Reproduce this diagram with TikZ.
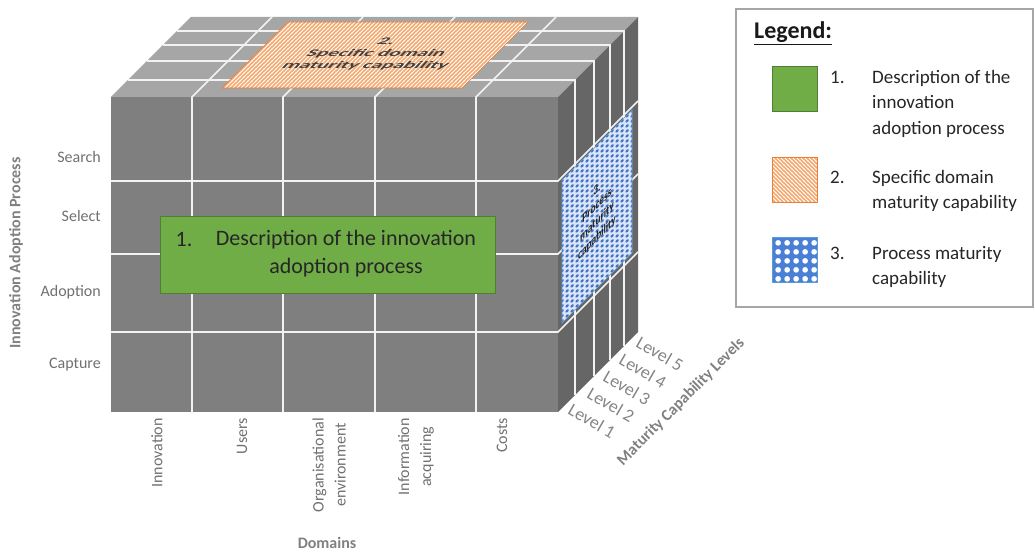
\documentclass[tikz,border=0pt]{standalone}
\usepackage{fontspec}
\setmainfont{Carlito}
\usetikzlibrary{patterns}
\definecolor{frontg}{HTML}{7F7F7F}
\definecolor{topg}{HTML}{A6A6A6}
\definecolor{sideg}{HTML}{666666}
\definecolor{gridw}{HTML}{F2F2F2}
\definecolor{grfill}{HTML}{70AD47}
\definecolor{grdraw}{HTML}{507E32}
\definecolor{orfill}{HTML}{F4A86E}
\definecolor{ordraw}{HTML}{ED7D31}
\definecolor{blfill}{HTML}{4A7FD6}
\definecolor{bldraw}{HTML}{5B9BD5}
\definecolor{bllight}{HTML}{D9E5F8}
\definecolor{bldot}{HTML}{4472C4}
\definecolor{labg}{HTML}{707070}
\definecolor{titg}{HTML}{808080}
\definecolor{legb}{HTML}{A6A6A6}
\pgfdeclarepatternformonly{hatchnw}{\pgfqpoint{-1pt}{-1pt}}{\pgfqpoint{5pt}{5pt}}{\pgfqpoint{4pt}{4pt}}{\pgfsetlinewidth{0.9pt}\pgfpathmoveto{\pgfqpoint{-0.3pt}{4.3pt}}\pgfpathlineto{\pgfqpoint{4.3pt}{-0.3pt}}\pgfusepath{stroke}}
\pgfdeclarepatternformonly{hatchne}{\pgfqpoint{-1pt}{-1pt}}{\pgfqpoint{5pt}{5pt}}{\pgfqpoint{4pt}{4pt}}{\pgfsetlinewidth{0.9pt}\pgfpathmoveto{\pgfqpoint{-0.3pt}{-0.3pt}}\pgfpathlineto{\pgfqpoint{4.3pt}{4.3pt}}\pgfusepath{stroke}}
\pgfdeclarepatternformonly{dotgrid}{\pgfqpoint{0pt}{0pt}}{\pgfqpoint{9pt}{9pt}}{\pgfqpoint{9pt}{9pt}}{\pgfpathcircle{\pgfqpoint{4.5pt}{4.5pt}}{3.1pt}\pgfusepath{fill}}
\pgfdeclarepatternformonly{smalldots}{\pgfqpoint{0pt}{0pt}}{\pgfqpoint{5pt}{5pt}}{\pgfqpoint{5pt}{5pt}}{\pgfpathellipse{\pgfqpoint{2.5pt}{2.5pt}}{\pgfqpoint{1.7pt}{1.7pt}}{\pgfqpoint{-1pt}{1pt}}\pgfusepath{fill}}
\tikzset{
  gridln/.style={draw=gridw, line width=1.6pt},
  lab/.style={text=labg, font=\fontsize{16}{19}\selectfont, inner sep=0pt},
  axtitle/.style={text=titg, font=\fontsize{16}{19}\selectfont\bfseries, inner sep=0pt},
  lvl/.style={text=labg!85, font=\fontsize{18}{21}\selectfont, rotate=-30, inner sep=0pt},
  legtxt/.style={font=\fontsize{19}{25.5}\selectfont, text=black!85, anchor=north west, align=left, inner sep=0pt},
  legnum/.style={font=\fontsize{19}{25.5}\selectfont, text=black!85, anchor=west, inner sep=0pt},
  orpat/.style={preaction={fill=orfill}, pattern=hatchne, pattern color=white},
  orpatl/.style={preaction={fill=orfill}, pattern=hatchnw, pattern color=white},
  blpat/.style={preaction={fill=blfill}, pattern=dotgrid, pattern color=white},
  blface/.style={preaction={fill=bllight}, pattern=smalldots, pattern color=bldot},
  swatch/.style={minimum width=45pt, minimum height=45pt, line width=1pt, inner sep=0pt},
}
\begin{document}
\begin{tikzpicture}[x=1pt,y=-1pt]
\useasboundingbox (0,0) rectangle (1035,553);
% cube faces
\fill[topg] (111,97) -- (558,97) -- (638,17) -- (191,17) -- cycle;
\fill[sideg] (558,97) -- (638,17) -- (638,332) -- (558,412) -- cycle;
\fill[frontg] (111,97) rectangle (558,412);
% grid lines
\foreach \d in {17,36,52,66}{
  \draw[gridln] ({111+\d},{97-\d}) -- ({558+\d},{97-\d}) -- ({558+\d},{412-\d});
}
\foreach \x in {192,283,375,476}{
  \draw[gridln] (\x,412) -- (\x,97) -- ({\x+80},17);
}
\foreach \y in {181,254,332}{
  \draw[gridln] (111,\y) -- (558,\y) -- (638,{\y-80});
}
% top pattern 2
\draw[orpat, draw=ordraw, line width=0.6pt] (222,88) -- (462,88) -- (528,22) -- (288,22) -- cycle;
\node[cm={1,0,0.42,0.48,(0,0)}, align=center, font=\fontsize{21}{25}\selectfont\bfseries, text=black!75, inner sep=0pt] (t2) at (376,54) {2.\\Specific domain\\maturity capability};
% side pattern 3
\draw[blface, draw=bldraw, line width=0.6pt] (562,180) -- (632,110) -- (632,253) -- (562,323) -- cycle;
\node[cm={0.72,0.72,0,1,(0,0)}, align=center, font=\fontsize{13}{16}\selectfont\bfseries, text=black!85, inner sep=0pt] (t3) at (597,214) {3.\\Process\\maturity\\capability};
% green box 1
\node[draw=grdraw, fill=grfill, line width=1pt, minimum width=335pt, minimum height=77pt, anchor=north west, inner sep=0pt] (g1) at (160,216) {};
\node[font=\fontsize{22}{28}\selectfont, text=black!85, inner sep=0pt] (g1n) at (184,240) {1.};
\node[font=\fontsize{22}{28}\selectfont, text=black!85, align=center, inner sep=0pt] (g1t) at (346,254) {Description of the innovation\\adoption process};
% left labels
\node[lab, anchor=east] (lsearch) at (101,157) {Search};
\node[lab, anchor=east] (lselect) at (101,216) {Select};
\node[lab, anchor=east] (ladopt) at (101,292) {Adoption};
\node[lab, anchor=east] (lcapt) at (101,365) {Capture};
\node[axtitle, rotate=90] (ltitle) at (16,253) {Innovation Adoption Process};
% bottom labels
\node[lab, rotate=90, anchor=east] (binn) at (157,418) {Innovation};
\node[lab, rotate=90, anchor=east] (buse) at (242,418) {Users};
\node[lab, rotate=90, anchor=east, align=center, font=\fontsize{16}{22}\selectfont] (borg) at (329,418) {Organisational\\environment};
\node[lab, rotate=90, anchor=east, align=center, font=\fontsize{16}{22}\selectfont] (binf) at (416,418) {Information\\acquiring};
\node[lab, rotate=90, anchor=east] (bcost) at (502,418) {Costs};
\node[axtitle] (btitle) at (327,543) {Domains};
% level labels
\node[lvl] (lv1) at (592,421) {Level 1};
\node[lvl] (lv2) at (611,405) {Level 2};
\node[lvl] (lv3) at (627,388) {Level 3};
\node[lvl] (lv4) at (643,371) {Level 4};
\node[lvl] (lv5) at (660,354) {Level 5};
\node[axtitle, rotate=45] (lvtitle) at (681,402) {Maturity Capability Levels};
% legend
\draw[legb, line width=1.5pt, fill=white] (736,9) rectangle (1033,307);
\node[font=\fontsize{24}{28}\selectfont\bfseries, text=black!90, anchor=west, inner sep=0pt] (legt) at (754,33) {\underline{Legend:}};
\node[swatch, fill=grfill, draw=grdraw] (s1) at (794.5,89.5) {};
\node[swatch, orpatl, draw=ordraw] (s2) at (794.5,180) {};
\node[swatch, blpat, draw=bldraw] (s3) at (794.5,260) {};
\node[legnum] (n1) at (830,77) {1.};
\node[legtxt] (d1) at (872,70) {Description of the\\innovation\\adoption process};
\node[legnum] (n2) at (830,177) {2.};
\node[legtxt] (d2) at (872,170) {Specific domain\\maturity capability};
\node[legnum] (n3) at (830,253) {3.};
\node[legtxt] (d3) at (872,246) {Process maturity\\capability};
\end{tikzpicture}
\end{document}
